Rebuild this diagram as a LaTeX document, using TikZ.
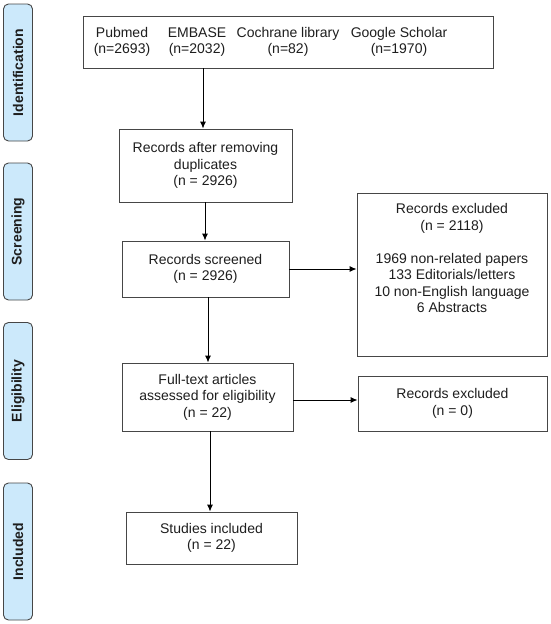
\documentclass[tikz,border=0pt]{standalone}
\usepackage{fontspec}
\setmainfont{Liberation Sans}
\usetikzlibrary{arrows.meta}
\definecolor{sidefill}{RGB}{204,233,251}
\definecolor{linegray}{RGB}{70,70,70}
\definecolor{txt}{RGB}{30,30,30}
\begin{document}
\begin{tikzpicture}[x=1pt,y=-1pt,
  font=\fontsize{14}{16.5}\selectfont, text=txt,
  box/.style={draw=linegray,line width=0.9pt,fill=white,rectangle,align=center,inner sep=0pt},
  side/.style={draw=linegray,line width=0.9pt,fill=sidefill,rounded corners=5pt,minimum width=29pt,minimum height=137pt,inner sep=0pt},
  sidetext/.style={rotate=90,font=\fontsize{14}{16}\selectfont\bfseries},
  arr/.style={draw=black,line width=0.9pt,-{Latex[length=7pt,width=6pt]}}]
\useasboundingbox (0,0) rectangle (550,624);
% side labels
\node[side] (sid) at (18,72.5) {};
\node[sidetext] at (sid.center) {Identification};
\node[side] (sscr) at (18,231.5) {};
\node[sidetext] at (sscr.center) {Screening};
\node[side] (selig) at (18,391) {};
\node[sidetext] at (selig.center) {Eligibility};
\node[side] (sincl) at (18,551.5) {};
\node[sidetext] at (sincl.center) {Included};
% boxes
\node[box,minimum width=410pt,minimum height=52pt] (top) at (288,42) {};
\node[align=center] (pub) at (122,42) {Pubmed\\(n=2693)};
\node[align=center] (emb) at (197,42) {EMBASE\\(n=2032)};
\node[align=center] (coc) at (288,42) {Cochrane library\\(n=82)};
\node[align=center] (goo) at (399,42) {Google Scholar\\(n=1970)};
\node[box,minimum width=173pt,minimum height=73pt] (dup) at (205.5,165.5) {Records after removing\\duplicates\\(n = 2926)};
\node[box,minimum width=167pt,minimum height=56pt] (scr) at (205.5,269) {Records screened\\(n = 2926)};
\node[box,minimum width=190pt,minimum height=163pt] (ex1) at (452,274.5) {};
\node[align=center,anchor=north] (ex1t) at (452,200) {Records excluded\\(n = 2118)\\[16.5pt]1969 non-related papers\\133 Editorials/letters\\10 non-English language\\6 Abstracts};
\node[box,minimum width=171pt,minimum height=68pt] (ft) at (207.5,397) {Full-text articles\\assessed for eligibility\\(n = 22)};
\node[box,minimum width=189pt,minimum height=55pt] (ex2) at (452.5,403.5) {Records excluded\\(n = 0)};
\node[box,minimum width=171pt,minimum height=52pt] (inc) at (211.5,538) {Studies included\\(n = 22)};
% arrow positions
\coordinate (a1) at (203,0);
\coordinate (a2) at (205,0);
\coordinate (a3) at (208,0);
\coordinate (a4) at (210,0);
\coordinate (h1) at (0,269);
\coordinate (h2) at (0,400);
\draw[arr] (top.south -| a1) -- (dup.north -| a1);
\draw[arr] (dup.south -| a2) -- (scr.north -| a2);
\draw[arr] (scr.south -| a3) -- (ft.north -| a3);
\draw[arr] (ft.south -| a4) -- (inc.north -| a4);
\draw[arr] (scr.east |- h1) -- (ex1.west |- h1);
\draw[arr] (ft.east |- h2) -- (ex2.west |- h2);
\end{tikzpicture}
\end{document}
